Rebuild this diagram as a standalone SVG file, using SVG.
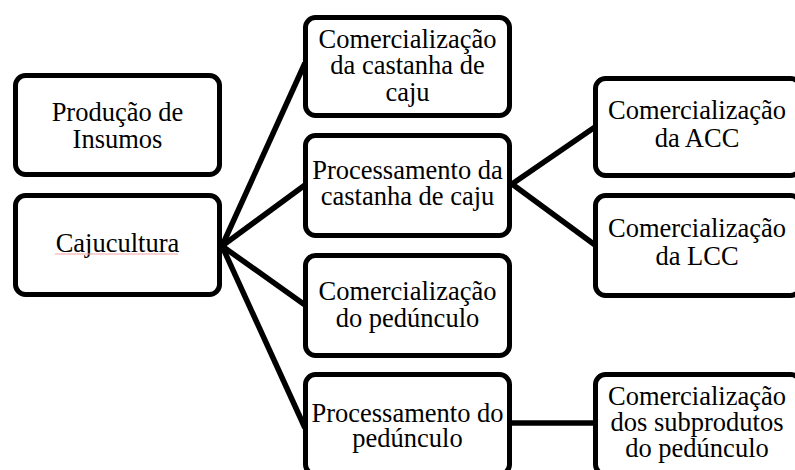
<svg xmlns="http://www.w3.org/2000/svg" width="795" height="470" viewBox="0 0 795 470">
<style>
.box{fill:#fff;stroke:#000;stroke-width:5}
.t{font-family:"Liberation Serif","Times New Roman",serif;font-size:26.5px;fill:#000;text-anchor:middle}
.c{stroke:#000;stroke-width:5.5;fill:none;stroke-linecap:butt}
</style>
<rect width="795" height="470" fill="#fff"/>
<g id="connectors">
<line class="c" x1="222" y1="246" x2="305" y2="63"/>
<line class="c" x1="222" y1="246" x2="305" y2="185"/>
<line class="c" x1="222" y1="246" x2="305" y2="305"/>
<line class="c" x1="222" y1="246" x2="305" y2="428"/>
<line class="c" x1="512" y1="184" x2="595" y2="127"/>
<line class="c" x1="512" y1="184" x2="595" y2="245"/>
<line class="c" x1="510" y1="423" x2="596" y2="423"/>
</g>
<g id="producao">
<rect class="box" x="15.5" y="75.5" width="204" height="99" rx="10"/>
<text class="t" x="117.5" y="120.5">Produção de</text>
<text class="t" x="117.5" y="148">Insumos</text>
</g>
<g id="cajucultura">
<rect class="box" x="15.5" y="195.5" width="204" height="99" rx="10"/>
<text class="t" x="117.5" y="252">Cajucultura</text>
<line x1="55" y1="254" x2="178" y2="254" stroke="#f4a0a0" stroke-width="1"/>
</g>
<g id="com-castanha">
<rect class="box" x="305.5" y="17.5" width="204" height="98" rx="10"/>
<text class="t" x="407.5" y="47.5">Comercialização</text>
<text class="t" x="407.5" y="74">da castanha de</text>
<text class="t" x="407.5" y="100.5">caju</text>
</g>
<g id="proc-castanha">
<rect class="box" x="305.5" y="135.5" width="204" height="100" rx="10"/>
<text class="t" x="407.5" y="179">Processamento da</text>
<text class="t" x="407.5" y="205">castanha de caju</text>
</g>
<g id="com-pedunculo">
<rect class="box" x="305.5" y="255.5" width="204" height="100" rx="10"/>
<text class="t" x="407.5" y="300">Comercialização</text>
<text class="t" x="407.5" y="327">do pedúnculo</text>
</g>
<g id="proc-pedunculo">
<rect class="box" x="305.5" y="374.5" width="204" height="100" rx="10"/>
<text class="t" x="407.5" y="422">Processamento do</text>
<text class="t" x="407.5" y="447">pedúnculo</text>
</g>
<g id="com-acc">
<rect class="box" x="595.5" y="78.5" width="205" height="97" rx="10"/>
<text class="t" x="697" y="118.5">Comercialização</text>
<text class="t" x="697" y="146.5">da ACC</text>
</g>
<g id="com-lcc">
<rect class="box" x="595.5" y="195.5" width="205" height="100" rx="10"/>
<text class="t" x="697" y="237">Comercialização</text>
<text class="t" x="697" y="265">da LCC</text>
</g>
<g id="com-subprodutos">
<rect class="box" x="595.5" y="374.5" width="205" height="100" rx="10"/>
<text class="t" x="697" y="405">Comercialização</text>
<text class="t" x="697" y="431">dos subprodutos</text>
<text class="t" x="697" y="457">do pedúnculo</text>
</g>
</svg>
